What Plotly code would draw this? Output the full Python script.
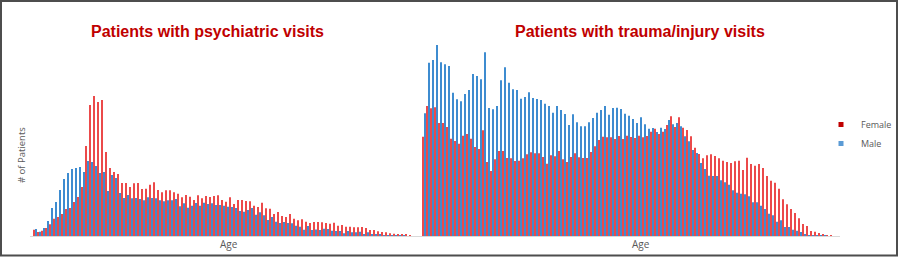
import plotly.graph_objects as go

# ---- data (relative patient counts) ----
psych_female = [6.3, 4, 5.3, 8, 11.7, 17.3, 19, 22, 27, 28, 34, 39, 49, 90, 131, 140, 134, 136, 84, 68,
                64, 62, 53, 53, 49, 52.7, 53, 47, 47.3, 51.3, 53.7, 46, 43.7, 45.7, 45.7, 43.7, 42.3, 38.7, 41, 39.3,
                36, 40.7, 37.7, 40, 39, 40, 40.7, 36, 34.3, 38.7, 32, 36, 36, 35, 34.7, 30.3, 29, 33.3, 27.7, 27.3,
                22, 24, 20, 19, 22, 17.3, 15.7, 16.7, 14.3, 13, 14, 14, 13.7, 13, 12.3, 13.3, 10.3, 11, 9.3, 9.3,
                8.7, 8.7, 9, 8, 6, 6, 4.7, 4, 3.7, 2.7, 2.3, 2, 1.3, 1.3, 0.7]
psych_male = [7, 4.3, 8, 15, 28, 34, 46, 57, 63, 67, 68, 69, 64, 75, 74, 70, 63, 64, 45, 61,
              58, 43, 38, 41, 37.7, 38, 37, 35.7, 38.7, 38, 37.7, 35.7, 34.7, 35.7, 35.7, 37, 29.7, 32.7, 28.3, 30.3,
              33, 30.3, 33.3, 32, 32.7, 31, 31, 30.3, 29.3, 29, 28, 25, 24.3, 26, 28, 21.3, 23.7, 20.7, 16, 19,
              14.3, 13, 14, 13, 12.7, 10.3, 9.3, 6.3, 10, 6, 6.5, 6, 7.3, 7, 5.3, 5, 5, 2.7, 5, 3.7,
              3.7, 4.3, 2, 3.7, 2, 1.7, 1.7, 1, 1, 0.7, 0.3, 0.7, 0.3, 0, 0]
trauma_female = [99.3, 130, 127.7, 128.7, 113, 113, 109, 97.3, 95, 92.3, 100.3, 102, 97.3, 89, 87, 105.7, 74, 65, 76.7, 85,
                 85, 78, 77.7, 75, 75.3, 77.7, 81.7, 83.7, 82.7, 82.7, 79, 72.3, 80.7, 79.7, 85, 76.7, 74, 79, 82.7, 78.7,
                 78, 78, 84, 89.7, 96, 99.3, 98.7, 98.7, 97, 100, 97, 100.3, 99, 98, 100.3, 98.7, 100, 104.3, 107.3, 102,
                 104.3, 111, 119.7, 109, 118.7, 108.3, 106, 99.7, 88.3, 82, 77.7, 80.7, 81.7, 80, 77.7, 75.3, 74, 73, 74.7, 75.3,
                 66, 78.3, 72, 70.3, 72, 68, 60, 55.3, 53.3, 47.3, 36.7, 31.7, 27, 23, 17.7, 12, 10, 5, 4.3, 3,
                 2, 1, 0.7]
trauma_male = [122.7, 173.3, 176, 191, 173.7, 171.7, 170, 143.3, 136.7, 134.7, 142, 146, 162, 160, 156.7, 183.7, 128, 126.7, 130, 155.7,
               168.7, 153.3, 146.7, 146, 137.3, 139, 143.7, 138, 137, 136, 132.3, 130, 123.3, 130, 126, 122, 111, 121.7, 113.7, 109.7,
               109.7, 113.7, 118, 123.3, 126, 130, 121.3, 128, 128.3, 127, 122.3, 120.3, 117, 113, 118.7, 111.7, 107.3, 108, 104, 108.3,
               107, 116, 111.7, 113, 109.7, 99.7, 94.7, 86, 83, 73, 67, 60.3, 60, 60, 55.7, 53.7, 51.3, 45.7, 43.3, 42.3,
               41.7, 39.7, 33.7, 33.7, 30.3, 27, 22.3, 20.7, 14.3, 15.7, 9, 9, 6.3, 5.3, 4, 1.3, 1, 1, 0.7, 0.3,
               0.3, 0, 0]
psych_ages = list(range(len(psych_female)))
trauma_ages = list(range(len(trauma_female)))

series_names = ["Female", "Male"]
panel_titles = ["Patients with psychiatric visits", "Patients with trauma/injury visits"]

BAR_RED = "#EB4A4A"
BAR_BLUE = "#3E8CD0"
LEG_RED = "#C00000"
LEG_BLUE = "#5B9BD5"
TITLE_RED = "#C00000"
GRAY = "#595959"

W, H = 899, 257
L, R, T, B = 30, 840, 30, 236
PW, PH = R - L, B - T
SPLIT = 418
UNIT = 4.0  # pixels per age step

RED_W, BLUE_W = 0.42, 0.36  # bar widths in age units


def px_x(p):
    return (p - L) / PW


def px_y(p):
    return (B - p) / PH


fig = go.Figure()
for xa, ya, ages, fem, mal in [("x", "y", psych_ages, psych_female, psych_male),
                               ("x2", "y2", trauma_ages, trauma_female, trauma_male)]:
    fig.add_trace(go.Bar(x=ages, y=fem, name="Female", width=RED_W, offset=-RED_W,
                         marker=dict(color=BAR_RED, line=dict(width=0)),
                         xaxis=xa, yaxis=ya, showlegend=False))
    fig.add_trace(go.Bar(x=ages, y=mal, name="Male", width=BLUE_W, offset=0,
                         marker=dict(color=BAR_BLUE, line=dict(width=0)),
                         xaxis=xa, yaxis=ya, showlegend=False))
# legend entries
for nm, col in zip(series_names, [LEG_RED, LEG_BLUE]):
    fig.add_trace(go.Scatter(x=[None], y=[None], mode="markers", name=nm,
                             marker=dict(symbol="square", size=5, color=col), xaxis="x", yaxis="y"))

d = px_x(SPLIT)
ymax = PH
xa_common = dict(showline=True, linecolor="#D9D9D9", linewidth=1, showticklabels=False, ticks="",
                 showgrid=False, zeroline=False)
ya_common = dict(range=[0, ymax], showline=False, showticklabels=False, ticks="", showgrid=False, zeroline=False)

p0 = 35.0   # pixel centre of first psychiatric age
t0 = 424.0  # pixel centre of first trauma age

fig.update_layout(
    width=W, height=H,
    margin=dict(l=L, r=W - R, t=T, b=H - B, pad=0, autoexpand=False),
    paper_bgcolor="white", plot_bgcolor="white",
    barmode="overlay",
    xaxis=dict(domain=[0, d], range=[(L - p0) / UNIT, (SPLIT - p0) / UNIT], anchor="y", **xa_common),
    xaxis2=dict(domain=[d, 1], range=[(SPLIT - t0) / UNIT, (R - t0) / UNIT], anchor="y2", **xa_common),
    yaxis=dict(domain=[0, 1], anchor="x", **ya_common),
    yaxis2=dict(domain=[0, 1], anchor="x2", **ya_common),
    showlegend=True,
    legend=dict(xref="container", yref="container", x=821 / W, y=1 - 110 / H, xanchor="left", yanchor="top",
                font=dict(family="Open Sans", size=9, color=GRAY), bgcolor="rgba(0,0,0,0)",
                tracegroupgap=0, itemwidth=30),
    font=dict(family="Open Sans", color=GRAY),
)

annotations = [
    dict(text="<b>%s</b>" % panel_titles[0], x=px_x(207), y=px_y(31), xref="paper", yref="paper",
         showarrow=False, xanchor="center", yanchor="middle",
         font=dict(family="Liberation Sans, Arial", size=16, color=TITLE_RED)),
    dict(text="<b>%s</b>" % panel_titles[1], x=px_x(640), y=px_y(31), xref="paper", yref="paper",
         showarrow=False, xanchor="center", yanchor="middle",
         font=dict(family="Liberation Sans, Arial", size=16, color=TITLE_RED)),
    dict(text="Age", x=px_x(229), y=px_y(244), xref="paper", yref="paper", showarrow=False,
         xanchor="center", yanchor="middle", font=dict(family="Open Sans", size=10, color=GRAY)),
    dict(text="Age", x=px_x(641), y=px_y(244), xref="paper", yref="paper", showarrow=False,
         xanchor="center", yanchor="middle", font=dict(family="Open Sans", size=10, color=GRAY)),
    dict(text="# of Patients", x=px_x(21), y=px_y(155), xref="paper", yref="paper", showarrow=False,
         textangle=-90, xanchor="center", yanchor="middle", font=dict(family="Open Sans", size=9.5, color=GRAY)),
]
fig.update_layout(annotations=annotations)

fig.add_shape(type="rect", xref="paper", yref="paper",
              x0=px_x(1), x1=px_x(897), y0=px_y(1), y1=px_y(255.5),
              line=dict(color="#4D4D4D", width=2), fillcolor="rgba(0,0,0,0)", layer="above")

fig.write_html("out.html")
